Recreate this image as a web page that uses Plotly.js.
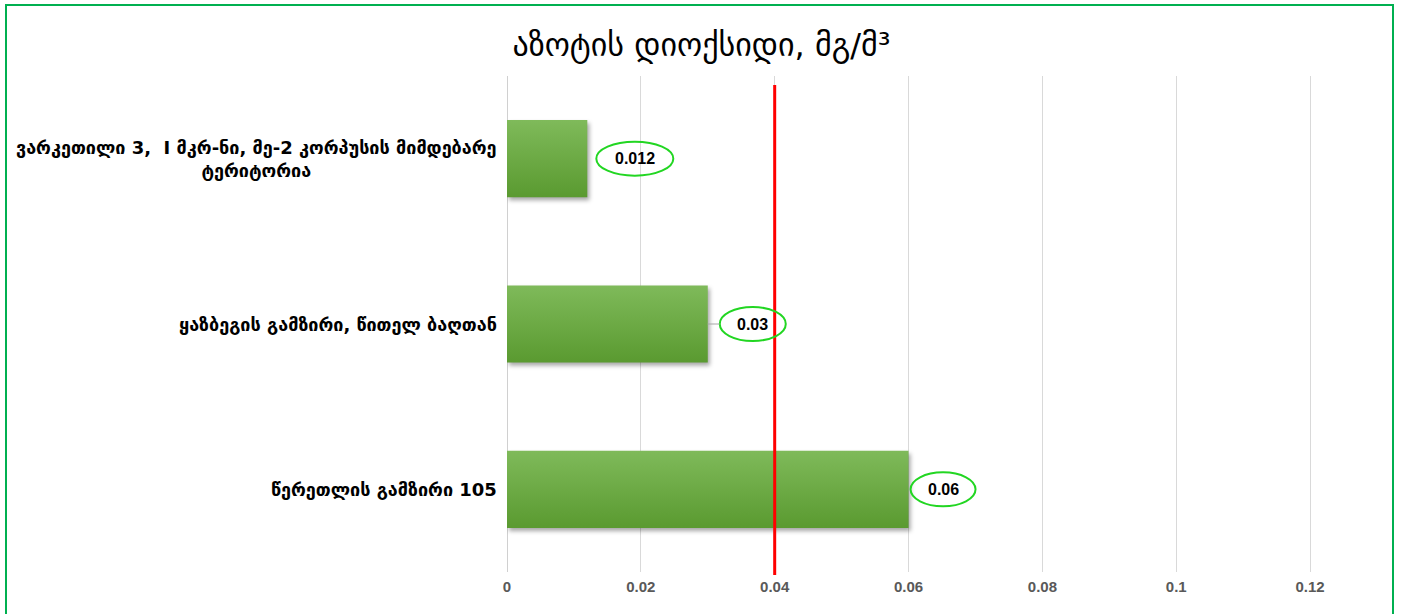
<!DOCTYPE html>
<html>
<head>
<meta charset="utf-8">
<script src="https://cdn.plot.ly/plotly-3.0.1.min.js"></script>
<style>
  html, body { margin: 0; padding: 0; background: #fff; }
  #wrap { position: relative; width: 1403px; height: 614px; overflow: hidden; }
  #chart { position: absolute; left: 0; top: 0; width: 1403px; height: 614px; }
  #frame { position: absolute; left: 5px; top: 4px; width: 1389px; height: 700px;
           border: 2px solid #00b050; pointer-events: none; box-sizing: border-box; }
</style>
</head>
<body>
<div id="wrap">
  <div id="chart"></div>
  <div id="frame"></div>
</div>
<script>
// ---- data ----
const chartTitle = "აზოტის დიოქსიდი, მგ/მ³";
const categories = [
  "ვარკეთილი 3,  I მკრ-ნი, მე-2 კორპუსის მიმდებარე<br>ტერიტორია",
  "ყაზბეგის გამზირი, წითელ ბაღთან",
  "წერეთლის გამზირი 105"
];
const values = [0.012, 0.03, 0.06];
const limitValue = 0.04;
const xTickValues = [0, 0.02, 0.04, 0.06, 0.08, 0.1, 0.12];
const xTickLabels = ["0", "0.02", "0.04", "0.06", "0.08", "0.1", "0.12"];

// ---- label styling (pixel offsets from bar end) ----
const ellipseFrom = [9, 12, 2];
const ellipseTo = [86, 78, 67];
const leader = [false, true, false];

const bars = {
  type: 'bar',
  orientation: 'h',
  x: values,
  y: categories,
  marker: { color: '#6aa842', line: { width: 0 } },
  hoverinfo: 'skip',
  cliponaxis: false
};

const shapes = [];
const annotations = [];

// limit line
shapes.push({
  type: 'line', xref: 'x', yref: 'paper',
  x0: limitValue, x1: limitValue, y0: -0.006, y1: 0.982,
  line: { color: '#ff0000', width: 3 }, layer: 'above'
});

values.forEach((v, i) => {
  shapes.push({
    type: 'circle', xref: 'x', yref: 'y',
    xsizemode: 'pixel', ysizemode: 'pixel',
    xanchor: v, yanchor: i,
    x0: ellipseFrom[i], x1: ellipseTo[i], y0: -17, y1: 17,
    line: { color: '#22d622', width: 2 }, fillcolor: 'rgba(255,255,255,0)',
    layer: 'above'
  });
  if (leader[i]) {
    shapes.push({
      type: 'line', xref: 'x', yref: 'y',
      xsizemode: 'pixel', ysizemode: 'pixel',
      xanchor: v, yanchor: i,
      x0: 0, x1: ellipseFrom[i], y0: 0, y1: 0,
      line: { color: '#a6a6a6', width: 1 }, layer: 'above'
    });
  }
  annotations.push({
    x: v, y: i, xref: 'x', yref: 'y',
    text: '<b>' + String(v) + '</b>',
    showarrow: false, xanchor: 'center', yanchor: 'middle',
    xshift: (ellipseFrom[i] + ellipseTo[i]) / 2,
    font: { family: 'Liberation Sans, Arial, sans-serif', size: 16, color: '#000' }
  });
});

categories.forEach((c, i) => {
  annotations.push({
    x: 0, y: i, xref: 'paper', yref: 'y',
    text: c, showarrow: false, xanchor: 'right', yanchor: 'middle',
    align: 'center', xshift: -8,
    font: { family: 'DejaVu Sans, sans-serif', size: 18, weight: 'bold', color: '#000' }
  });
});

const layout = {
  width: 1403, height: 614,
  margin: { l: 507, r: 26, t: 76, b: 42 },
  paper_bgcolor: '#ffffff', plot_bgcolor: '#ffffff',
  title: {
    text: chartTitle, x: 0.5, xanchor: 'center',
    y: 1 - 45 / 614, yref: 'container', yanchor: 'middle',
    font: { family: 'DejaVu Sans, sans-serif', size: 32, color: '#000' }
  },
  bargap: 0.533,
  showlegend: false,
  xaxis: {
    range: [0, 0.13],
    tickvals: xTickValues, ticktext: xTickLabels,
    showgrid: true, gridcolor: '#d9d9d9', gridwidth: 1,
    zeroline: true, zerolinecolor: '#d0d0d0', zerolinewidth: 1,
    showline: false, ticks: '',
    tickfont: { family: 'Liberation Sans, Arial, sans-serif', size: 15, weight: 'bold', color: '#595959' },
    ticklabelstandoff: 4,
    fixedrange: true
  },
  yaxis: {
    type: 'category',
    autorange: 'reversed',
    showticklabels: false, ticks: '',
    showgrid: false, zeroline: false, showline: false,
    fixedrange: true
  },
  shapes: shapes,
  annotations: annotations
};

function styleBars(gd) {
  const svg = gd.querySelector('svg.main-svg');
  if (!svg) return;
  const ns = 'http://www.w3.org/2000/svg';
  if (!document.getElementById('barGrad')) {
    let defs = svg.querySelector('defs');
    if (!defs) { defs = document.createElementNS(ns, 'defs'); svg.insertBefore(defs, svg.firstChild); }
    const g = document.createElementNS(ns, 'linearGradient');
    g.setAttribute('id', 'barGrad');
    g.setAttribute('x1', '0'); g.setAttribute('y1', '0');
    g.setAttribute('x2', '0'); g.setAttribute('y2', '1');
    [['0', '#7fba5a'], ['1', '#5a9a30']].forEach(([o, c]) => {
      const s = document.createElementNS(ns, 'stop');
      s.setAttribute('offset', o); s.setAttribute('stop-color', c);
      g.appendChild(s);
    });
    defs.appendChild(g);
  }
  gd.querySelectorAll('.barlayer .point path').forEach(p => {
    p.style.fill = 'url(#barGrad)';
    p.style.filter = 'drop-shadow(2px 3px 2px rgba(0,0,0,0.35))';
  });
}

const gd = document.getElementById('chart');
Plotly.newPlot(gd, [bars], layout, { displayModeBar: false, staticPlot: true }).then(() => {
  styleBars(gd);
  gd.on('plotly_afterplot', () => styleBars(gd));
});
</script>
</body>
</html>
